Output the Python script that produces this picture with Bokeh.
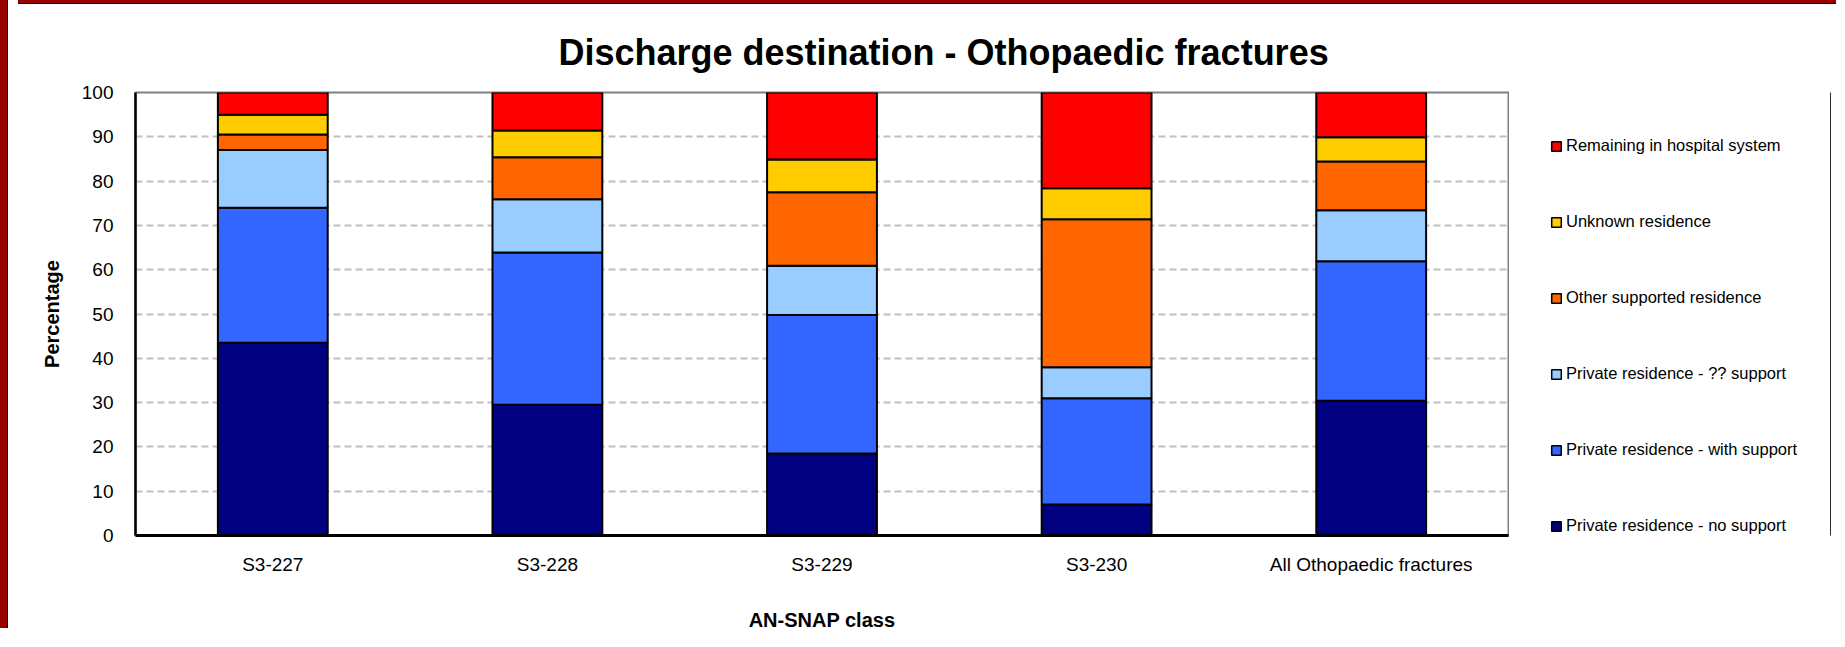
from bokeh.plotting import figure
from bokeh.models import Legend, LegendItem, FactorRange, ColumnDataSource, Range1d, Div
from bokeh.layouts import row, column
from bokeh.embed import file_html
from bokeh.resources import INLINE

categories = ["S3-227", "S3-228", "S3-229", "S3-230", "All Othopaedic fractures"]
series_names = [
    "Private residence - no support",
    "Private residence - with support",
    "Private residence - ?? support",
    "Other supported residence",
    "Unknown residence",
    "Remaining in hospital system",
]
no_support = [43.5, 29.5, 18.5, 7.0, 30.4]
with_support = [30.5, 34.4, 31.3, 24.0, 31.5]
unknown_support = [13.0, 12.0, 11.1, 7.0, 11.5]
other_supported = [3.5, 9.5, 16.6, 33.4, 11.0]
unknown_residence = [4.5, 6.0, 7.4, 7.0, 5.5]
remaining_hospital = [5.0, 8.6, 15.1, 21.6, 10.1]
colors = ["#000080", "#3366FF", "#99CCFF", "#FF6600", "#FFCC00", "#FF0000"]
y_ticks = list(range(0, 101, 10))

keys = ["s0", "s1", "s2", "s3", "s4", "s5"]
data = dict(cat=categories)
for k, vals in zip(keys, [no_support, with_support, unknown_support,
                          other_supported, unknown_residence, remaining_hospital]):
    data[k] = vals
source = ColumnDataSource(data)

H = 624
p = figure(
    x_range=FactorRange(*categories, range_padding=0),
    y_range=(0, 100),
    width=1496, height=H,
    output_backend="svg", toolbar_location=None,
    min_border_left=122, min_border_right=1,
    min_border_top=82, min_border_bottom=94,
    background_fill_color="white", border_fill_color="white",
)

renderers = p.vbar_stack(keys, x="cat", width=0.4, source=source,
                         fill_color=colors, line_color="black", line_width=2)

# Title
p.title.text = "Discharge destination - Othopaedic fractures"
p.title.text_font = "Liberation Sans"
p.title.text_font_size = "36px"
p.title.text_font_style = "bold"
p.title.text_color = "black"
p.title.align = "left"
p.title.offset = 423
p.title.standoff = 40

# Axes
p.yaxis.ticker = y_ticks
p.yaxis.axis_label = "Percentage"
p.xaxis.axis_label = "AN-SNAP class"
for ax in (p.xaxis[0], p.yaxis[0]):
    ax.major_tick_line_color = None
    ax.minor_tick_line_color = None
    ax.major_tick_out = 0
    ax.major_tick_in = 0
    ax.minor_tick_out = 0
    ax.major_label_text_font = "Liberation Sans"
    ax.major_label_text_font_size = "19px"
    ax.major_label_text_color = "black"
    ax.axis_label_text_font = "Liberation Sans"
    ax.axis_label_text_font_size = "20px"
    ax.axis_label_text_font_style = "bold"
    ax.axis_label_text_color = "black"
    ax.axis_line_color = "black"
p.yaxis.axis_line_width = 2.5
p.xaxis.axis_line_width = 3
p.yaxis.major_label_standoff = 22
p.yaxis.axis_label_standoff = 16
p.xaxis.major_label_standoff = 18
p.xaxis.axis_label_standoff = 31

# Grid
p.xgrid.grid_line_color = None
p.ygrid.grid_line_color = "#C0C0C0"
p.ygrid.grid_line_dash = "7 4"
p.ygrid.grid_line_width = 2
p.outline_line_color = "#808080"
p.outline_line_width = 2

# Legend panel (separate small figure to the right of the chart)
pl = figure(
    x_range=Range1d(0, 1), y_range=Range1d(0, 1),
    width=322, height=H,
    output_backend="svg", toolbar_location=None,
    x_axis_type=None, y_axis_type=None,
    min_border_left=0, min_border_right=0, min_border_top=0, min_border_bottom=0,
    background_fill_color="white", border_fill_color="white",
)
pl.grid.visible = False
pl.outline_line_color = None
# swatch renderers for the legend: one bar each, placed outside the visible range
legend_renderers = [pl.vbar(x=[5], top=[1], width=0.4, fill_color=c,
                            line_color="black", line_width=1.5) for c in colors]
items = [LegendItem(label=series_names[i], renderers=[legend_renderers[i]])
         for i in reversed(range(6))]
legend = Legend(items=items, location=(41, 0))
legend.margin = 0
legend.padding = 0
legend.spacing = 57
legend.glyph_width = 12
legend.glyph_height = 12
legend.label_standoff = 4
legend.label_text_font = "Liberation Sans"
legend.label_text_font_size = "16.5px"
legend.label_text_color = "black"
legend.border_line_alpha = 0
legend.background_fill_alpha = 0
pl.add_layout(legend, "center")

# Dark red frame at the top and left edges
left_band = Div(text="", width=11, height=H + 7,
                styles={"background": "linear-gradient(to right, #990000 10px, #000000 10px)"})
top_band = Div(text="", width=1818, height=7,
               styles={"background": "linear-gradient(to bottom, #990000 6px, #000000 6px)"})

layout = row(left_band, column(top_band, row(p, pl, spacing=0), spacing=0), spacing=0,
             styles={"margin-left": "-8px", "margin-top": "-8px"})

open("out.html", "w").write(file_html(layout, INLINE))
